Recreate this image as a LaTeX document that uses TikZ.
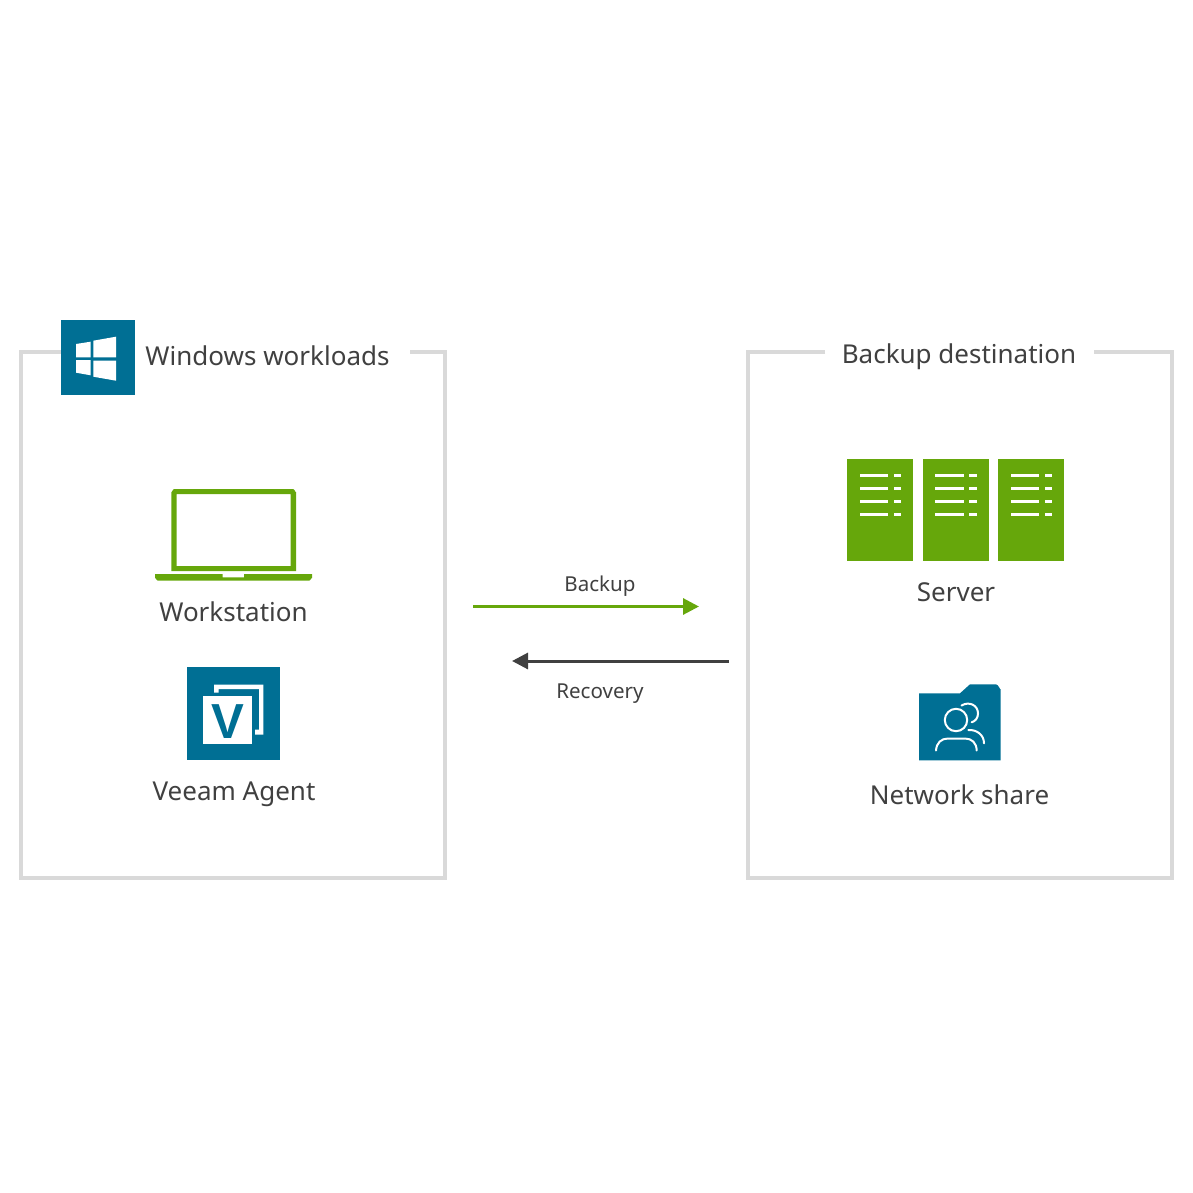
\documentclass[tikz,border=0pt]{standalone}
\usepackage{fontspec}
\setmainfont{Noto Sans}
\newfontfamily\logofont{Liberation Sans}
\usetikzlibrary{arrows.meta}
\definecolor{teal}{HTML}{006F94}
\definecolor{leaf}{HTML}{66A70B}
\definecolor{ink}{HTML}{404040}
\definecolor{frame}{HTML}{D9D9D9}
\tikzset{
    boxline/.style={draw=frame, line width=.07cm},
    bigtext/.style={anchor=base, inner sep=0pt, text=ink, font=\fontsize{14.8}{18}\selectfont},
    smalltext/.style={anchor=base, inner sep=0pt, text=ink, font=\fontsize{11.7}{14}\selectfont},
    flow/.style={-{Triangle[length=.32cm,width=.32cm]}, line width=.06cm},
    peopleline/.style={draw=white, line width=.04cm, line cap=round}
}
\begin{document}
\begin{tikzpicture}[x=.02cm, y=-.02cm]
    \useasboundingbox (0,0) rectangle (1193,1193);
    \draw[boxline] (61,352)--(21,352)--(21,878)--(445,878)--(445,352)--(410,352); %Left frame
    \draw[boxline] (825,352)--(748,352)--(748,878)--(1172,878)--(1172,352)--(1094,352); %Right frame
    \node[bigtext] (windowstitle) at (267.5,365) {Windows workloads};
    \node[bigtext] (backuptitle) at (959,363) {Backup destination};
    \fill[teal] (61,320) rectangle (135,395); %Windows logo
    \fill[white] (76,344)--(90.7,341.7)--(90.7,357.3)--(76,357.3)--cycle;
    \fill[white] (93.3,340.7)--(116,336.7)--(116,357.3)--(93.3,357.3)--cycle;
    \fill[white] (76,360)--(90.7,360)--(90.7,375.3)--(76,372.7)--cycle;
    \fill[white] (93.3,360.7)--(116,360.7)--(116,380.7)--(93.3,376.7)--cycle;
    \fill[leaf, even odd rule] (171.3,571)--(171.3,492) to[out=-90,in=180] (174.3,489)--(293,489) to[out=0,in=-90] (296,492)--(296,571)--cycle (176.7,494) rectangle (290.7,566); %Laptop
    \fill[leaf] (155,574)--(222.7,574)--(222.7,577.3)--(244,577.3)--(244,574)--(312,574)--(312,578) to[out=90,in=0] (309,580.7)--(158,580.7) to[out=180,in=90] (155,578)--cycle;
    \node[bigtext] (workstation) at (233.5,621) {Workstation};
    \fill[teal] (187,667) rectangle (280,760); %Agent logo
    \fill[white] (214,692.7)--(214,684.7)--(263.3,684.7)--(263.3,734.7)--(255,734.7)--(255,729.7)--(259,729.7)--(259,689)--(218.7,689)--(218.7,692.7)--cycle;
    \fill[white] (203.3,696) rectangle (252,744.3);
    \node[anchor=base, inner sep=0pt, text=teal, font=\logofont\bfseries\fontsize{28}{28}\selectfont] (agentletter) at (227.7,738.3) {V};
    \node[bigtext] (agent) at (234,800) {Veeam Agent};
    \foreach \x in {847,922.5,998}{\fill[leaf] (\x,459) rectangle (\x+66,561); %Server racks
        \foreach \y in {475.7,488.7,501.3,514}{
            \fill[white] (\x+12.5,\y-1.5) rectangle (\x+41,\y+1.5);
            \fill[white] (\x+46.5,\y-1.5) rectangle (\x+54,\y+1.5);
        }
    }
    \node[bigtext] (server) at (956,601) {Server};
    \fill[teal] (919,693.3)--(960,693.3)--(970,684.3)--(996,684.3) to[out=0,in=-90] (1000.7,689)--(1000.7,760.3)--(919,760.3)--cycle; %Share folder
    \draw[peopleline] (956,720) circle (11.2);
    \draw[peopleline] (936,750.5) .. controls (936.5,743) and (941,738.5) .. (948,738.5)--(965,738.5) .. controls (972,738.5) and (976.5,743) .. (976.7,750.5);
    \draw[peopleline] (961.5,705.5) .. controls (969,701) and (978,705) .. (978,713.5) .. controls (978,718) and (975.5,721) .. (971.7,722.3);
    \draw[peopleline] (968.3,730) .. controls (977,729.5) and (984,735) .. (984,743.3);
    \node[bigtext] (share) at (959.5,804) {Network share};
    \coordinate (backupstart) at (473,606.5);
    \coordinate (backupend) at (699,606.5);
    \coordinate (recoverystart) at (729,661);
    \coordinate (recoveryend) at (512,661);
    \draw[flow, leaf] (backupstart)--(backupend);
    \draw[flow, ink] (recoverystart)--(recoveryend);
    \node[smalltext] (backuplabel) at (600,591) {Backup};
    \node[smalltext] (recoverylabel) at (600,698) {Recovery};
\end{tikzpicture}
\end{document}
